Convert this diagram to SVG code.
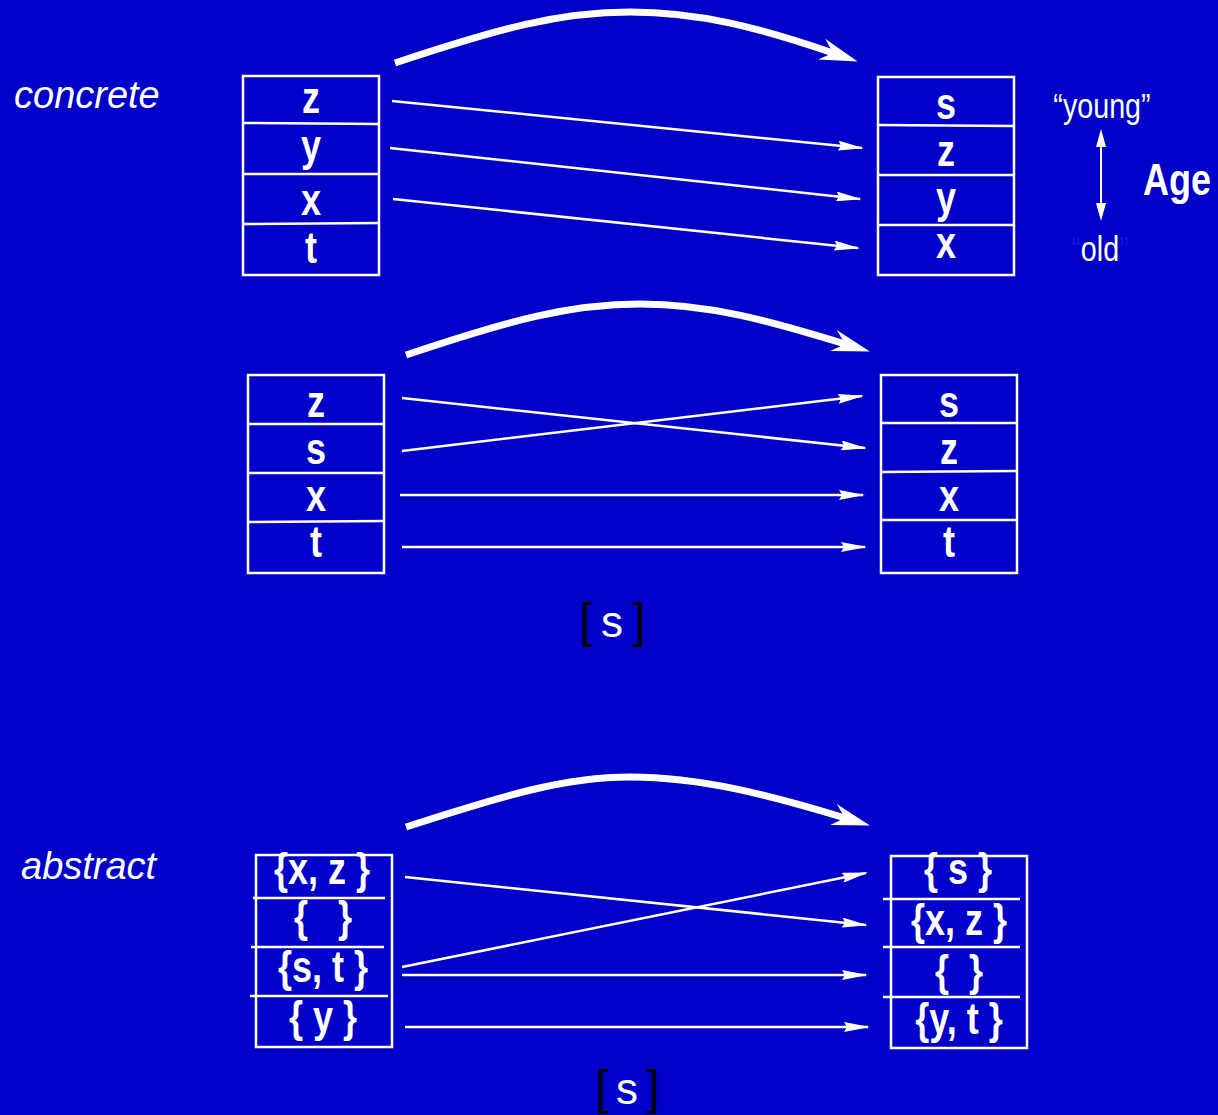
<svg xmlns="http://www.w3.org/2000/svg" width="1218" height="1115" viewBox="0 0 1218 1115">
  <style>
    .box { fill: none; stroke: #fff; stroke-width: 2.5; }
    .div { stroke: #fff; stroke-width: 2.5; }
    .narrow { transform-box: fill-box; transform-origin: center; transform: scaleX(0.82); }
    .cell { font-family: "Liberation Sans", Arial, sans-serif; font-weight: bold; font-size: 44px; fill: #fff; text-anchor: middle; }
    .label { font-family: "Liberation Sans", Arial, sans-serif; font-style: italic; font-size: 38px; fill: #fff; }
    .age { font-family: "Liberation Sans", Arial, sans-serif; font-size: 35px; fill: #fff; text-anchor: middle; }
    .bracket { font-family: "Liberation Sans", Arial, sans-serif; font-size: 48px; fill: #000; text-anchor: middle; }
    .sym { font-family: "Liberation Sans", Arial, sans-serif; font-size: 44px; fill: #fff; text-anchor: middle; }
    .thin { fill: none; stroke: #fff; stroke-width: 2.5; marker-end: url(#head); }
    .big { fill: none; stroke: #fff; stroke-width: 7; marker-end: url(#bighead); }
  </style>
  <defs>
    <marker id="head" viewBox="0 0 26 10" markerUnits="userSpaceOnUse" markerWidth="26" markerHeight="10" refX="24" refY="5" orient="auto">
      <path d="M0,0 L26,5 L0,10 L3,5 z" fill="#fff"/>
    </marker>
    <marker id="bighead" viewBox="0 0 38 22" markerUnits="userSpaceOnUse" markerWidth="38" markerHeight="22" refX="12" refY="11" orient="auto">
      <path d="M0,0 L38,11 L0,22 L12,11 z" fill="#fff"/>
    </marker>
  </defs>

  <rect width="1218" height="1115" fill="#0000c8"/>

  <!-- side labels -->
  <text class="label" x="14" y="108">concrete</text>
  <text class="label" x="21" y="879">abstract</text>

  <!-- age scale -->
  <g id="age">
    <text class="age narrow" x="1102" y="118">“young”</text>
    <text class="age narrow" x="1100" y="261"><tspan fill="#1414dc">“</tspan>old<tspan fill="#1414dc">”</tspan></text>
    <line x1="1101" y1="142" x2="1101" y2="208" stroke="#fff" stroke-width="2"/>
    <path d="M1101,129 L1096,147 L1106,147 z M1101,221 L1096,203 L1106,203 z" fill="#fff"/>
    <text class="cell narrow" x="1177" y="195" font-size="48">Age</text>
  </g>

  <!-- row 1: concrete stacks -->
  <g id="stack1-left">
    <rect class="box" x="243" y="76" width="136" height="199"/>
    <line class="div" x1="243" y1="123" x2="379" y2="124"/>
    <line class="div" x1="243" y1="174" x2="378" y2="174"/>
    <line class="div" x1="243" y1="224" x2="380" y2="223"/>
    <text class="cell narrow" x="311" y="113">z</text>
    <text class="cell narrow" x="311" y="161">y</text>
    <text class="cell narrow" x="311" y="215">x</text>
    <text class="cell narrow" x="311" y="263">t</text>
  </g>
  <g id="stack1-right">
    <rect class="box" x="878" y="77" width="136" height="198"/>
    <line class="div" x1="878" y1="125" x2="1014" y2="126"/>
    <line class="div" x1="878" y1="175" x2="1014" y2="175"/>
    <line class="div" x1="878" y1="225" x2="1014" y2="225"/>
    <text class="cell narrow" x="946" y="119">s</text>
    <text class="cell narrow" x="946" y="166">z</text>
    <text class="cell narrow" x="946" y="213">y</text>
    <text class="cell narrow" x="946" y="258">x</text>
  </g>

  <!-- row 2: concrete stacks -->
  <g id="stack2-left">
    <rect class="box" x="248" y="375" width="136" height="198"/>
    <line class="div" x1="248" y1="424" x2="384" y2="424"/>
    <line class="div" x1="248" y1="473" x2="384" y2="473"/>
    <line class="div" x1="248" y1="522" x2="384" y2="521"/>
    <text class="cell narrow" x="316" y="417">z</text>
    <text class="cell narrow" x="316" y="464">s</text>
    <text class="cell narrow" x="316" y="511">x</text>
    <text class="cell narrow" x="316" y="557">t</text>
  </g>
  <g id="stack2-right">
    <rect class="box" x="881" y="375" width="136" height="198"/>
    <line class="div" x1="881" y1="423" x2="1017" y2="423"/>
    <line class="div" x1="881" y1="472" x2="1017" y2="471"/>
    <line class="div" x1="881" y1="520" x2="1017" y2="520"/>
    <text class="cell narrow" x="949" y="417">s</text>
    <text class="cell narrow" x="949" y="464">z</text>
    <text class="cell narrow" x="949" y="511">x</text>
    <text class="cell narrow" x="949" y="557">t</text>
  </g>
  <g id="tag2">
    <text class="bracket" x="586" y="637">[</text>
    <text class="sym" x="612" y="637">s</text>
    <text class="bracket" x="639" y="637">]</text>
  </g>

  <!-- row 3: abstract stacks -->
  <g id="stack3-left">
    <rect class="box" x="256" y="855" width="136" height="192"/>
    <line class="div" x1="253" y1="898" x2="385" y2="898"/>
    <line class="div" x1="251" y1="947" x2="384" y2="947"/>
    <line class="div" x1="250" y1="996" x2="388" y2="996"/>
    <text class="cell narrow" x="322" y="884">{x, z }</text>
    <text class="cell narrow" x="323" y="932">{&#160;&#160;&#160;}</text>
    <text class="cell narrow" x="323" y="982">{s, t }</text>
    <text class="cell narrow" x="323" y="1032">{ y }</text>
  </g>
  <g id="stack3-right">
    <rect class="box" x="891" y="856" width="136" height="192"/>
    <line class="div" x1="883" y1="899" x2="1020" y2="899"/>
    <line class="div" x1="883" y1="947" x2="1020" y2="947"/>
    <line class="div" x1="883" y1="997" x2="1020" y2="997"/>
    <text class="cell narrow" x="958" y="884">{ s }</text>
    <text class="cell narrow" x="959" y="935">{x, z }</text>
    <text class="cell narrow" x="959" y="986">{&#160;&#160;}</text>
    <text class="cell narrow" x="959" y="1034">{y, t }</text>
  </g>
  <g id="tag3">
    <text class="bracket" x="602" y="1104">[</text>
    <text class="sym" x="627" y="1104">s</text>
    <text class="bracket" x="653" y="1104">]</text>
  </g>

  <!-- connectors -->
  <g id="connectors">
    <path class="big" d="M395,63 C500,28 560,12 630,12 C700,12 760,28 833,53"/>
    <line class="thin" x1="392" y1="101" x2="862" y2="148"/>
    <line class="thin" x1="390" y1="148" x2="860" y2="199"/>
    <line class="thin" x1="393" y1="199" x2="858" y2="248"/>

    <path class="big" d="M406,355 C510,320 570,304 640,304 C710,304 770,321 845,344"/>
    <line class="thin" x1="402" y1="398" x2="865" y2="448"/>
    <line class="thin" x1="402" y1="451" x2="862" y2="396"/>
    <line class="thin" x1="400" y1="495" x2="863" y2="495"/>
    <line class="thin" x1="402" y1="547" x2="865" y2="547"/>

    <path class="big" d="M406,827 C505,795 565,777 630,777 C700,777 770,795 845,818"/>
    <line class="thin" x1="405" y1="877" x2="866" y2="925"/>
    <line class="thin" x1="402" y1="967" x2="866" y2="873"/>
    <line class="thin" x1="402" y1="975" x2="866" y2="975"/>
    <line class="thin" x1="405" y1="1027" x2="868" y2="1027"/>
  </g>
</svg>
